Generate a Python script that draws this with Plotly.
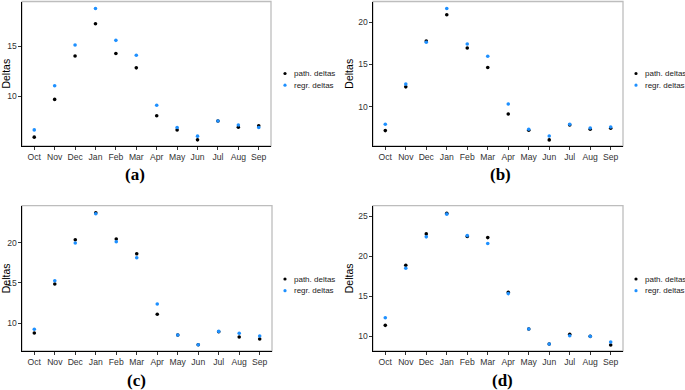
import plotly.graph_objects as go

months = ["Oct", "Nov", "Dec", "Jan", "Feb", "Mar", "Apr", "May", "Jun", "Jul", "Aug", "Sep"]

path_a = [5.95, 9.70, 14.01, 17.21, 14.25, 12.83, 8.08, 6.67, 5.68, 7.56, 6.94, 7.07]
regr_a = [6.67, 11.05, 15.10, 18.72, 15.56, 14.08, 9.11, 6.90, 6.05, 7.56, 7.16, 6.90]

path_b = [7.18, 12.35, 17.76, 20.87, 16.94, 14.63, 9.14, 7.22, 6.08, 7.85, 7.34, 7.45]
regr_b = [7.93, 12.67, 17.61, 21.61, 17.41, 15.96, 10.32, 7.34, 6.55, 7.93, 7.49, 7.61]

path_c = [8.80, 14.87, 20.36, 23.70, 20.45, 18.62, 11.12, 8.55, 7.35, 8.96, 8.30, 8.05]
regr_c = [9.26, 15.28, 19.95, 23.58, 20.11, 18.13, 12.39, 8.55, 7.35, 9.00, 8.76, 8.43]

path_d = [11.34, 18.88, 22.81, 25.41, 22.48, 22.35, 15.49, 10.88, 9.00, 10.21, 9.96, 8.87]
regr_d = [12.30, 18.50, 22.44, 25.29, 22.60, 21.60, 15.32, 10.88, 9.00, 10.04, 9.96, 9.25]

panel_labels = ["(a)", "(b)", "(c)", "(d)"]
series_names = ["path. deltas", "regr. deltas"]
yticks_a = [10, 15]
yticks_b = [10, 15, 20]
yticks_c = [10, 15, 20]
yticks_d = [10, 15, 20, 25]

W, H = 685, 390
panels = [
    dict(path=path_a, regr=regr_a, ticks=yticks_a, yr=[5.07, 19.42], xpx=(22, 271), ypx=(1.5, 146), lab=(135, 175), leg=(285, 73.5)),
    dict(path=path_b, regr=regr_b, ticks=yticks_b, yr=[5.36, 22.43], xpx=(373, 623), ypx=(1.5, 146), lab=(500, 175), leg=(636, 73.5)),
    dict(path=path_c, regr=regr_c, ticks=yticks_c, yr=[6.57, 24.57], xpx=(22, 272), ypx=(205.7, 351), lab=(136, 380), leg=(285, 279)),
    dict(path=path_d, regr=regr_d, ticks=yticks_d, yr=[8.12, 26.35], xpx=(373, 623), ypx=(205.7, 351), lab=(502, 380), leg=(636, 279)),
]
colors = ["#000000", "#1E90FF"]

fig = go.Figure()
layout = dict(width=W, height=H, margin=dict(l=0, r=0, t=0, b=0, autoexpand=False),
              paper_bgcolor="white", plot_bgcolor="white", showlegend=False,
              font=dict(family="Liberation Sans", color="#000000"),
              shapes=[], annotations=[])

for i, p in enumerate(panels):
    k = "" if i == 0 else str(i + 1)
    xa, ya = "x" + k, "y" + k
    for j, (vals, nm) in enumerate([(p["path"], series_names[0]), (p["regr"], series_names[1])]):
        fig.add_trace(go.Scatter(
            x=months, y=vals, mode="markers", name=nm,
            marker=dict(color=colors[j], size=3.6),
            xaxis=xa, yaxis=ya))
        # legend key + label for this panel
        mx = p["leg"][0]
        my = p["leg"][1] + 11.7 * j
        r = 1.6
        layout["shapes"].append(dict(type="circle", xref="paper", yref="paper",
                                     x0=(mx - r) / W, x1=(mx + r) / W,
                                     y0=1 - (my + r) / H, y1=1 - (my - r) / H,
                                     fillcolor=colors[j], line=dict(width=0)))
        layout["annotations"].append(dict(
            text=nm, xref="paper", yref="paper", x=(mx + 6.5) / W, y=1 - my / H,
            xanchor="left", yanchor="middle", showarrow=False,
            font=dict(family="Liberation Sans", size=8.0, color="#1a1a1a")))
    x0, x1 = p["xpx"]
    y0, y1 = p["ypx"]
    layout["xaxis" + k] = dict(
        domain=[x0 / W, x1 / W], anchor=ya, type="category",
        categoryorder="array", categoryarray=months, range=[-0.6, 11.6],
        showgrid=False, zeroline=False, showline=True, linecolor="#000000", linewidth=1.1,
        ticks="outside", ticklen=2.5, tickwidth=1, tickcolor="#333333",
        tickfont=dict(size=8.6, color="#333333"), automargin=False)
    layout["yaxis" + k] = dict(
        domain=[1 - y1 / H, 1 - y0 / H], anchor=xa, range=p["yr"],
        tickvals=p["ticks"], showgrid=False, zeroline=False,
        showline=True, linecolor="#000000", linewidth=1.1,
        ticks="outside", ticklen=2.5, tickwidth=1, tickcolor="#333333",
        tickfont=dict(size=8.6, color="#333333"),
        title=dict(text="Deltas", font=dict(size=10.5, color="#000000"), standoff=2),
        automargin=False)
    layout["shapes"].append(dict(type="rect", xref=xa + " domain", yref=ya + " domain",
                                 x0=0, x1=1, y0=0, y1=1, layer="below",
                                 line=dict(color="#bdbdbd", width=1.3)))
    layout["annotations"].append(dict(
        text="<b>%s</b>" % panel_labels[i], xref="paper", yref="paper",
        x=p["lab"][0] / W, y=1 - p["lab"][1] / H, xanchor="center", yanchor="middle",
        showarrow=False, font=dict(family="Liberation Serif", size=17, color="#000000")))

fig.update_layout(**layout)
fig.write_html("out.html", config={"displayModeBar": False},
               post_script="document.body.style.margin='0px';")
